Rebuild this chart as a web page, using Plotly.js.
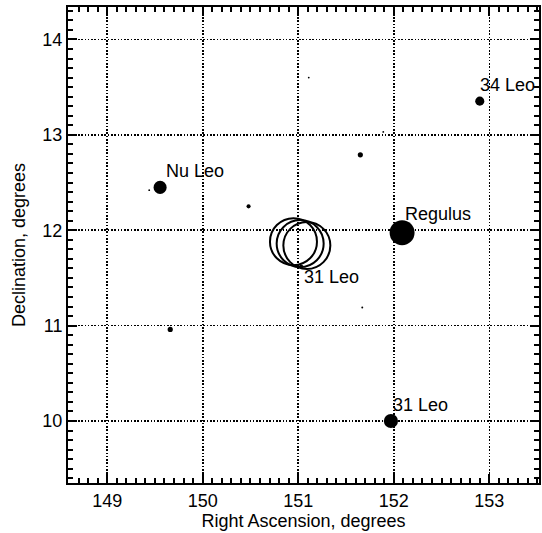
<!DOCTYPE html>
<html>
<head>
<meta charset="utf-8">
<script src="https://cdn.plot.ly/plotly-3.0.1.min.js"></script>
<style>html,body{margin:0;padding:0;background:#fff;}#chart{width:542px;height:533px;}</style>
</head>
<body>
<div id="chart"></div>
<script>
// Star catalogue
const starRA   = [152.087, 151.97, 149.554, 152.90, 151.03, 151.65, 150.48, 149.66, 151.67, 151.89, 151.11, 149.44];
const starDec  = [11.974, 10.00, 12.449, 13.353, 11.62, 12.79, 12.25, 10.96, 11.19, 13.03, 13.60, 12.42];
const starMag  = [1.4, 4.4, 4.7, 5.8, 7.2, 6.9, 7.2, 6.9, 7.8, 7.9, 7.9, 7.9];
const starName = ['Regulus', '31 Leo', 'Nu Leo', '34 Leo', '31 Leo', '', '', '', '', '', '', ''];
// Comet track positions (open circles)
const cometRA  = [150.95, 151.02, 151.09];
const cometDec = [11.88, 11.86, 11.84];
const xTicks = [149, 150, 151, 152, 153];
const yTicks = [10, 11, 12, 13, 14];

const sizes = starMag.map(m => Math.max(1.8, 30 - 3.6 * m));
const FONT = 'Liberation Sans, Arial, Helvetica, sans-serif';

// label offsets (px) – styling only
function labelOffset(name, i) {
  if (name === '31 Leo') return (i === 4) ? [1, -11] : [0, 16];
  if (name === 'Regulus') return [1, 19];
  if (name === 'Nu Leo') return [4, 16];
  return [-2, 16];
}

const annotations = [];
starName.forEach((n, i) => {
  if (!n) return;
  const sh = labelOffset(n, i);
  annotations.push({
    x: starRA[i], y: starDec[i], xref: 'x', yref: 'y', text: n, showarrow: false,
    xanchor: 'left', yanchor: 'middle', xshift: sh[0], yshift: sh[1],
    font: {family: FONT, size: 18, color: '#000'}
  });
});

const traces = [
  {x: starRA, y: starDec, type: 'scatter', mode: 'markers',
   marker: {size: sizes, color: '#000', opacity: 1, line: {width: 0}}, hoverinfo: 'skip'},
  {x: cometRA, y: cometDec, type: 'scatter', mode: 'markers',
   marker: {symbol: 'circle-open', size: 47, color: '#000', opacity: 1, line: {width: 2, color: '#000'}}, hoverinfo: 'skip'}
];

function axis(vals, range, title, standoff) {
  return {
    range: range, tickmode: 'linear', tick0: vals[0], dtick: vals[1] - vals[0],
    showline: true, linecolor: '#000', linewidth: 2, mirror: 'ticks',
    ticks: 'inside', ticklen: 9, tickwidth: 2, tickcolor: '#000',
    showgrid: true, gridcolor: '#000', gridwidth: 1.6, griddash: '1.6px,1.7px',
    zeroline: false,
    minor: {tickmode: 'linear', dtick: 0.1, ticks: 'inside', ticklen: 5, tickwidth: 2, tickcolor: '#000', showgrid: false},
    tickfont: {family: FONT, size: 18, color: '#000'},
    title: {text: title, standoff: standoff, font: {family: FONT, size: 18, color: '#000'}}
  };
}

const layout = {
  width: 542, height: 533,
  margin: {l: 68, r: 3, t: 7, b: 50},
  paper_bgcolor: '#fff', plot_bgcolor: '#fff',
  showlegend: false,
  xaxis: axis(xTicks, [148.59, 153.52], 'Right Ascension, degrees', 2),
  yaxis: axis(yTicks, [9.35, 14.34], 'Declination, degrees', 12),
  annotations: annotations
};

Plotly.newPlot('chart', traces, layout, {staticPlot: true, displayModeBar: false});
</script>
</body>
</html>
